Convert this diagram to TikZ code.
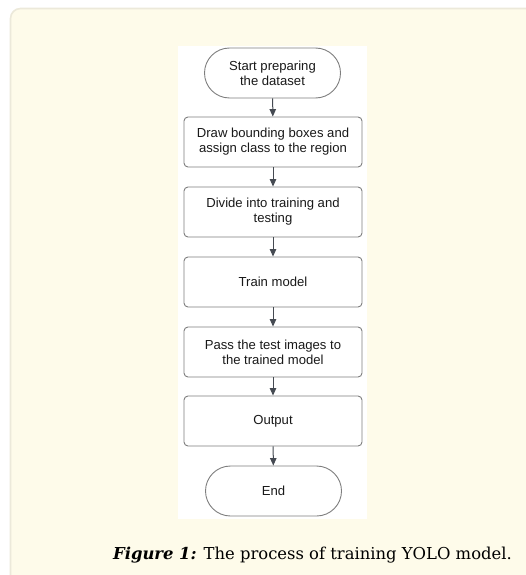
\documentclass[tikz,border=0pt]{standalone}
\usepackage{fontspec}
\setmainfont{DejaVu Serif}
\newfontfamily\flowfont{Liberation Sans}
\usepackage{tikz}
\usetikzlibrary{arrows.meta,positioning}
\definecolor{panelfill}{HTML}{FEFBEA}
\definecolor{panelline}{HTML}{ECE9DA}
\definecolor{boxline}{HTML}{7E7E7E}
\definecolor{arrowgray}{HTML}{454A52}
\tikzset{
  flowbox/.style={draw=boxline, line width=0.9pt, rounded corners=4pt, fill=white,
    align=center, font=\flowfont\fontsize{13.1}{15}\selectfont, text=black!90,
    minimum width=178pt, minimum height=50pt, inner sep=0pt},
  flowterm/.style={flowbox, rounded corners=25pt, minimum width=136pt},
  flowarrow/.style={-{Triangle[length=7.5pt,width=6.5pt]}, draw=arrowgray, line width=1pt},
}

\begin{document}
\begin{tikzpicture}[x=1pt, y=-1pt]
  \useasboundingbox (0,0) rectangle (525,575);
  % panel and white backdrop of the chart
  \draw[panelline, line width=1.6pt, fill=panelfill, rounded corners=10pt] (10.5,8.5) rectangle (540,590);
  \fill[white] (178,46) rectangle (367,519);
  % steps
  \node[flowterm] (start)  at (272.5,73)  {Start preparing\\the dataset};
  \node[flowbox]  (bbox)   at (273,142)   {Draw bounding boxes and\\assign class to the region};
  \node[flowbox]  (split)  at (273,212)   {Divide into training and\\testing};
  \node[flowbox]  (train)  at (273,282)   {Train model};
  \node[flowbox]  (test)   at (273,352)   {Pass the test images to\\the trained model};
  \node[flowbox]  (output) at (273,421)   {Output};
  \node[flowterm] (stop)   at (273.5,491) {End};
  \foreach \a/\b in {start/bbox, bbox/split, split/train, train/test, test/output, output/stop}
    \draw[flowarrow] (\a) -- (\b);
  % caption
  \node[anchor=base, font=\fontsize{16.4}{20}\selectfont] (caption) at (312.5,559)
    {\textbf{\textit{Figure 1:}} The process of training YOLO model.};
\end{tikzpicture}
\end{document}
